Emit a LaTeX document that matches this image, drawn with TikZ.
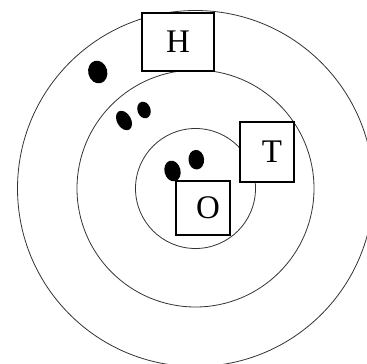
\documentclass[tikz,border=0pt]{standalone}
\usepackage{fontspec}
\setmainfont{Liberation Serif}
\usetikzlibrary{positioning}
\definecolor{ring}{HTML}{333333}

\begin{document}
\begin{tikzpicture}[x=1pt,y=-1pt,
    ringline/.style={draw=ring,line width=0.8pt},
    letterbox/.style={draw,fill=white,line width=1.5pt,inner sep=0pt,font=\fontsize{33}{39}\selectfont},
    blob/.style={fill=black}]
    \useasboundingbox (0,0) rectangle (367,364);
    \coordinate (c) at (195.5,188.5);
    % rings
    \draw[ringline] (c) circle[radius=178];
    \draw[ringline] (c) circle[radius=118.5];
    \draw[ringline] (c) circle[radius=60];
    % marks
    \fill[blob,rotate around={15:(98,73)}] (98,72) ellipse[x radius=9.5,y radius=11.5];
    \fill[blob,rotate around={30:(124,120.5)}] (124,120.5) ellipse[x radius=7,y radius=10.5];
    \fill[blob,rotate around={20:(144,110)}] (144,110) ellipse[x radius=6.5,y radius=8.5];
    \fill[blob,rotate around={15:(172.5,171)}] (172.5,171) ellipse[x radius=8,y radius=10.5];
    \fill[blob,rotate around={5:(196.3,159.7)}] (196.3,159.7) ellipse[x radius=7.8,y radius=9.8];
    % boxes
    \node[letterbox,minimum width=72pt,minimum height=58pt] (h) at (178,42) {H\hspace{9pt}};
    \node[letterbox,minimum width=54pt,minimum height=60pt] (t) at (267,152) {\hspace{10pt}T};
    \node[letterbox,minimum width=54pt,minimum height=54pt] (o) at (203,208) {\hspace{10pt}O};
\end{tikzpicture}
\end{document}
